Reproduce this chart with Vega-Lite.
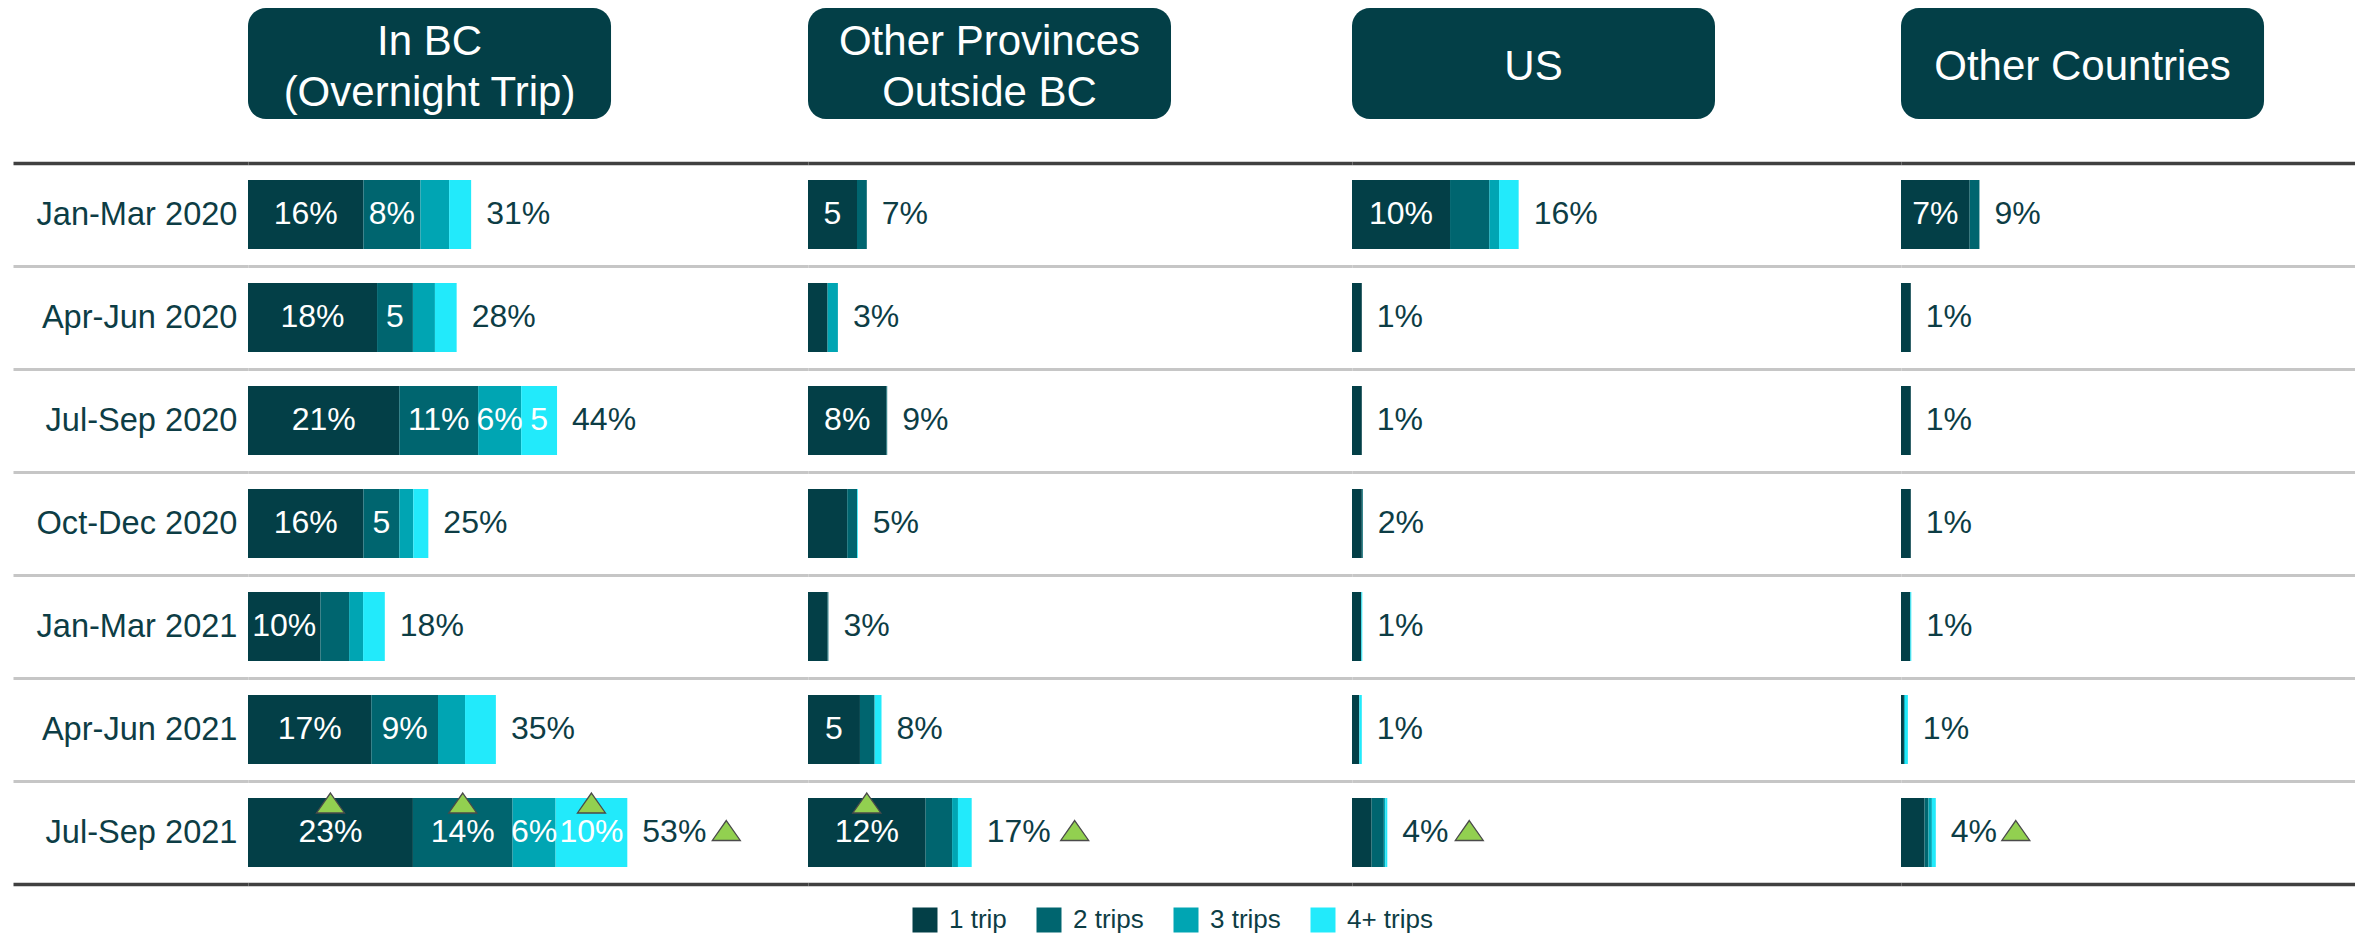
{
  "$schema": "https://vega.github.io/schema/vega-lite/v6.json",
  "background": "#ffffff",
  "padding": {"left": 11, "top": -17, "right": 0, "bottom": 0},
  "config": {"font": "Liberation Sans", "view": {"stroke": null}},
  "datasets": {
    "hdr": [
      {"region": "bc", "title": ["In BC", "(Overnight Trip)"]},
      {"region": "op", "title": ["Other Provinces", "Outside BC"]},
      {"region": "us", "title": "US"},
      {"region": "oc", "title": "Other Countries"}
    ],
    "tot": [
      {"pid": "bc1", "total": "31%", "tup": false}, {"pid": "bc2", "total": "28%", "tup": false}, {"pid": "bc3", "total": "44%", "tup": false}, {"pid": "bc4", "total": "25%", "tup": false}, {"pid": "bc5", "total": "18%", "tup": false}, {"pid": "bc6", "total": "35%", "tup": false}, {"pid": "bc7", "total": "53%", "tup": true},
      {"pid": "op1", "total": "7%", "tup": false}, {"pid": "op2", "total": "3%", "tup": false}, {"pid": "op3", "total": "9%", "tup": false}, {"pid": "op4", "total": "5%", "tup": false}, {"pid": "op5", "total": "3%", "tup": false}, {"pid": "op6", "total": "8%", "tup": false}, {"pid": "op7", "total": "17%", "tup": true},
      {"pid": "us1", "total": "16%", "tup": false}, {"pid": "us2", "total": "1%", "tup": false}, {"pid": "us3", "total": "1%", "tup": false}, {"pid": "us4", "total": "2%", "tup": false}, {"pid": "us5", "total": "1%", "tup": false}, {"pid": "us6", "total": "1%", "tup": false}, {"pid": "us7", "total": "4%", "tup": true},
      {"pid": "oc1", "total": "9%", "tup": false}, {"pid": "oc2", "total": "1%", "tup": false}, {"pid": "oc3", "total": "1%", "tup": false}, {"pid": "oc4", "total": "1%", "tup": false}, {"pid": "oc5", "total": "1%", "tup": false}, {"pid": "oc6", "total": "1%", "tup": false}, {"pid": "oc7", "total": "4%", "tup": true}
    ],
    "seg": [
      {"pid": "bc1", "region": "bc", "period": "Jan-Mar 2020", "trips": "1 trip", "value": 16.1, "label": "16%", "up": false},
      {"pid": "bc1", "region": "bc", "period": "Jan-Mar 2020", "trips": "2 trips", "value": 7.95, "label": "8%", "up": false},
      {"pid": "bc1", "region": "bc", "period": "Jan-Mar 2020", "trips": "3 trips", "value": 4.0, "label": "", "up": false},
      {"pid": "bc1", "region": "bc", "period": "Jan-Mar 2020", "trips": "4+ trips", "value": 3.07, "label": "", "up": false},
      {"pid": "bc2", "region": "bc", "period": "Apr-Jun 2020", "trips": "1 trip", "value": 18.0, "label": "18%", "up": false},
      {"pid": "bc2", "region": "bc", "period": "Apr-Jun 2020", "trips": "2 trips", "value": 5.0, "label": "5", "up": false},
      {"pid": "bc2", "region": "bc", "period": "Apr-Jun 2020", "trips": "3 trips", "value": 3.07, "label": "", "up": false},
      {"pid": "bc2", "region": "bc", "period": "Apr-Jun 2020", "trips": "4+ trips", "value": 3.03, "label": "", "up": false},
      {"pid": "bc3", "region": "bc", "period": "Jul-Sep 2020", "trips": "1 trip", "value": 21.1, "label": "21%", "up": false},
      {"pid": "bc3", "region": "bc", "period": "Jul-Sep 2020", "trips": "2 trips", "value": 11.0, "label": "11%", "up": false},
      {"pid": "bc3", "region": "bc", "period": "Jul-Sep 2020", "trips": "3 trips", "value": 6.0, "label": "6%", "up": false},
      {"pid": "bc3", "region": "bc", "period": "Jul-Sep 2020", "trips": "4+ trips", "value": 5.0, "label": "5", "up": false},
      {"pid": "bc4", "region": "bc", "period": "Oct-Dec 2020", "trips": "1 trip", "value": 16.1, "label": "16%", "up": false},
      {"pid": "bc4", "region": "bc", "period": "Oct-Dec 2020", "trips": "2 trips", "value": 5.0, "label": "5", "up": false},
      {"pid": "bc4", "region": "bc", "period": "Oct-Dec 2020", "trips": "3 trips", "value": 1.95, "label": "", "up": false},
      {"pid": "bc4", "region": "bc", "period": "Oct-Dec 2020", "trips": "4+ trips", "value": 2.1, "label": "", "up": false},
      {"pid": "bc5", "region": "bc", "period": "Jan-Mar 2021", "trips": "1 trip", "value": 10.1, "label": "10%", "up": false},
      {"pid": "bc5", "region": "bc", "period": "Jan-Mar 2021", "trips": "2 trips", "value": 4.0, "label": "", "up": false},
      {"pid": "bc5", "region": "bc", "period": "Jan-Mar 2021", "trips": "3 trips", "value": 1.95, "label": "", "up": false},
      {"pid": "bc5", "region": "bc", "period": "Jan-Mar 2021", "trips": "4+ trips", "value": 3.03, "label": "", "up": false},
      {"pid": "bc6", "region": "bc", "period": "Apr-Jun 2021", "trips": "1 trip", "value": 17.2, "label": "17%", "up": false},
      {"pid": "bc6", "region": "bc", "period": "Apr-Jun 2021", "trips": "2 trips", "value": 9.3, "label": "9%", "up": false},
      {"pid": "bc6", "region": "bc", "period": "Apr-Jun 2021", "trips": "3 trips", "value": 3.77, "label": "", "up": false},
      {"pid": "bc6", "region": "bc", "period": "Apr-Jun 2021", "trips": "4+ trips", "value": 4.3, "label": "", "up": false},
      {"pid": "bc7", "region": "bc", "period": "Jul-Sep 2021", "trips": "1 trip", "value": 23.0, "label": "23%", "up": true},
      {"pid": "bc7", "region": "bc", "period": "Jul-Sep 2021", "trips": "2 trips", "value": 13.9, "label": "14%", "up": true},
      {"pid": "bc7", "region": "bc", "period": "Jul-Sep 2021", "trips": "3 trips", "value": 6.0, "label": "6%", "up": false},
      {"pid": "bc7", "region": "bc", "period": "Jul-Sep 2021", "trips": "4+ trips", "value": 10.0, "label": "10%", "up": true},

      {"pid": "op1", "region": "op", "period": "Jan-Mar 2020", "trips": "1 trip", "value": 5.0, "label": "5", "up": false},
      {"pid": "op1", "region": "op", "period": "Jan-Mar 2020", "trips": "2 trips", "value": 1.0, "label": "", "up": false},
      {"pid": "op2", "region": "op", "period": "Apr-Jun 2020", "trips": "1 trip", "value": 2.0, "label": "", "up": false},
      {"pid": "op2", "region": "op", "period": "Apr-Jun 2020", "trips": "3 trips", "value": 1.05, "label": "", "up": false},
      {"pid": "op3", "region": "op", "period": "Jul-Sep 2020", "trips": "1 trip", "value": 8.0, "label": "8%", "up": false},
      {"pid": "op3", "region": "op", "period": "Jul-Sep 2020", "trips": "2 trips", "value": 0.08, "label": "", "up": false},
      {"pid": "op4", "region": "op", "period": "Oct-Dec 2020", "trips": "1 trip", "value": 4.0, "label": "", "up": false},
      {"pid": "op4", "region": "op", "period": "Oct-Dec 2020", "trips": "2 trips", "value": 1.0, "label": "", "up": false},
      {"pid": "op4", "region": "op", "period": "Oct-Dec 2020", "trips": "4+ trips", "value": 0.08, "label": "", "up": false},
      {"pid": "op5", "region": "op", "period": "Jan-Mar 2021", "trips": "1 trip", "value": 2.0, "label": "", "up": false},
      {"pid": "op5", "region": "op", "period": "Jan-Mar 2021", "trips": "2 trips", "value": 0.08, "label": "", "up": false},
      {"pid": "op6", "region": "op", "period": "Apr-Jun 2021", "trips": "1 trip", "value": 5.3, "label": "5", "up": false},
      {"pid": "op6", "region": "op", "period": "Apr-Jun 2021", "trips": "2 trips", "value": 1.5, "label": "", "up": false},
      {"pid": "op6", "region": "op", "period": "Apr-Jun 2021", "trips": "4+ trips", "value": 0.7, "label": "", "up": false},
      {"pid": "op7", "region": "op", "period": "Jul-Sep 2021", "trips": "1 trip", "value": 12.0, "label": "12%", "up": true},
      {"pid": "op7", "region": "op", "period": "Jul-Sep 2021", "trips": "2 trips", "value": 2.7, "label": "", "up": false},
      {"pid": "op7", "region": "op", "period": "Jul-Sep 2021", "trips": "3 trips", "value": 0.6, "label": "", "up": false},
      {"pid": "op7", "region": "op", "period": "Jul-Sep 2021", "trips": "4+ trips", "value": 1.4, "label": "", "up": false},

      {"pid": "us1", "region": "us", "period": "Jan-Mar 2020", "trips": "1 trip", "value": 10.0, "label": "10%", "up": false},
      {"pid": "us1", "region": "us", "period": "Jan-Mar 2020", "trips": "2 trips", "value": 4.0, "label": "", "up": false},
      {"pid": "us1", "region": "us", "period": "Jan-Mar 2020", "trips": "3 trips", "value": 1.0, "label": "", "up": false},
      {"pid": "us1", "region": "us", "period": "Jan-Mar 2020", "trips": "4+ trips", "value": 2.0, "label": "", "up": false},
      {"pid": "us2", "region": "us", "period": "Apr-Jun 2020", "trips": "1 trip", "value": 1.0, "label": "", "up": false},
      {"pid": "us3", "region": "us", "period": "Jul-Sep 2020", "trips": "1 trip", "value": 1.0, "label": "", "up": false},
      {"pid": "us4", "region": "us", "period": "Oct-Dec 2020", "trips": "1 trip", "value": 1.0, "label": "", "up": false},
      {"pid": "us4", "region": "us", "period": "Oct-Dec 2020", "trips": "2 trips", "value": 0.1, "label": "", "up": false},
      {"pid": "us5", "region": "us", "period": "Jan-Mar 2021", "trips": "1 trip", "value": 0.95, "label": "", "up": false},
      {"pid": "us5", "region": "us", "period": "Jan-Mar 2021", "trips": "4+ trips", "value": 0.1, "label": "", "up": false},
      {"pid": "us6", "region": "us", "period": "Apr-Jun 2021", "trips": "1 trip", "value": 0.75, "label": "", "up": false},
      {"pid": "us6", "region": "us", "period": "Apr-Jun 2021", "trips": "4+ trips", "value": 0.25, "label": "", "up": false},
      {"pid": "us7", "region": "us", "period": "Jul-Sep 2021", "trips": "1 trip", "value": 2.0, "label": "", "up": false},
      {"pid": "us7", "region": "us", "period": "Jul-Sep 2021", "trips": "2 trips", "value": 1.25, "label": "", "up": false},
      {"pid": "us7", "region": "us", "period": "Jul-Sep 2021", "trips": "3 trips", "value": 0.15, "label": "", "up": false},
      {"pid": "us7", "region": "us", "period": "Jul-Sep 2021", "trips": "4+ trips", "value": 0.2, "label": "", "up": false},

      {"pid": "oc1", "region": "oc", "period": "Jan-Mar 2020", "trips": "1 trip", "value": 7.0, "label": "7%", "up": false},
      {"pid": "oc1", "region": "oc", "period": "Jan-Mar 2020", "trips": "2 trips", "value": 1.0, "label": "", "up": false},
      {"pid": "oc2", "region": "oc", "period": "Apr-Jun 2020", "trips": "1 trip", "value": 1.0, "label": "", "up": false},
      {"pid": "oc3", "region": "oc", "period": "Jul-Sep 2020", "trips": "1 trip", "value": 1.0, "label": "", "up": false},
      {"pid": "oc4", "region": "oc", "period": "Oct-Dec 2020", "trips": "1 trip", "value": 1.0, "label": "", "up": false},
      {"pid": "oc5", "region": "oc", "period": "Jan-Mar 2021", "trips": "1 trip", "value": 0.95, "label": "", "up": false},
      {"pid": "oc5", "region": "oc", "period": "Jan-Mar 2021", "trips": "4+ trips", "value": 0.1, "label": "", "up": false},
      {"pid": "oc6", "region": "oc", "period": "Apr-Jun 2021", "trips": "1 trip", "value": 0.3, "label": "", "up": false},
      {"pid": "oc6", "region": "oc", "period": "Apr-Jun 2021", "trips": "3 trips", "value": 0.1, "label": "", "up": false},
      {"pid": "oc6", "region": "oc", "period": "Apr-Jun 2021", "trips": "4+ trips", "value": 0.3, "label": "", "up": false},
      {"pid": "oc7", "region": "oc", "period": "Jul-Sep 2021", "trips": "1 trip", "value": 2.4, "label": "", "up": false},
      {"pid": "oc7", "region": "oc", "period": "Jul-Sep 2021", "trips": "2 trips", "value": 0.4, "label": "", "up": false},
      {"pid": "oc7", "region": "oc", "period": "Jul-Sep 2021", "trips": "3 trips", "value": 0.35, "label": "", "up": false},
      {"pid": "oc7", "region": "oc", "period": "Jul-Sep 2021", "trips": "4+ trips", "value": 0.4, "label": "", "up": false}
    ]
  },
  "hconcat": [
    {
      "width": 560, "height": 885,
      "layer": [
        {
          "data": {"name": "hdr"},
          "transform": [{"filter": "datum.region === 'bc'"}],
          "encoding": {
            "x": {"field": "region", "type": "nominal", "axis": null, "scale": {"paddingInner": 0, "paddingOuter": 0.2713, "align": 0}},
            "y": {"field": "region", "type": "nominal", "axis": null, "scale": {"domain": ["bc", "_1", "_2", "_3", "_4", "_5", "_6"], "paddingInner": 0, "paddingOuter": 0.4865, "align": 0.0833}}
          },
          "layer": [
            {"mark": {"type": "rect", "cornerRadius": 18, "fill": "#033f47"}},
            {"mark": {"type": "text", "color": "#ffffff", "fontSize": 42, "lineHeight": 51, "baseline": "middle", "align": "center", "dy": -21}, "encoding": {"text": {"field": "title"}}}
          ]
        },
        {
          "data": {"name": "seg"},
          "transform": [{"filter": "datum.region === 'bc'"}],
          "layer": [
            {
              "mark": {"type": "bar", "height": 69},
              "encoding": {
                "y": {"field": "period", "type": "nominal", "title": null,
                  "scale": {"domain": ["Jan-Mar 2020", "Apr-Jun 2020", "Jul-Sep 2020", "Oct-Dec 2020", "Jan-Mar 2021", "Apr-Jun 2021", "Jul-Sep 2021"], "paddingInner": 0, "paddingOuter": 0.7961, "align": 1},
                  "axis": {"orient": "left", "title": null, "domain": false, "grid": true, "tickBand": "extent", "ticks": true, "tickSize": 235, "labelPadding": -224, "labelFontSize": 32.6, "labelColor": "#0d3d45", "labelAlign": "right", "labelBaseline": "middle", "labelLimit": 0,
                    "gridColor": {"condition": {"test": "datum.index === -1 || datum.value === 'Jul-Sep 2021'", "value": "#404040"}, "value": "#c6c6c6"},
                    "tickColor": {"condition": {"test": "datum.index === -1 || datum.value === 'Jul-Sep 2021'", "value": "#404040"}, "value": "#c6c6c6"},
                    "gridWidth": {"condition": {"test": "datum.index === -1 || datum.value === 'Jul-Sep 2021'", "value": 3.5}, "value": 3},
                    "tickWidth": {"condition": {"test": "datum.index === -1 || datum.value === 'Jul-Sep 2021'", "value": 3.5}, "value": 3}}},
                "x": {"field": "value", "type": "quantitative", "stack": "zero", "axis": null, "scale": {"domain": [0, 78.1], "nice": false, "zero": true}},
                "color": {"field": "trips", "type": "nominal", "scale": {"domain": ["1 trip", "2 trips", "3 trips", "4+ trips"], "range": ["#033f47", "#00656f", "#00a5b3", "#22eafb"]},
                  "legend": {"orient": "none", "legendX": 664, "legendY": 908, "direction": "horizontal", "title": null, "symbolType": "square", "symbolSize": 625, "symbolStrokeWidth": 0, "symbolOpacity": 1, "labelFontSize": 26, "labelColor": "#0d3d45", "columnPadding": 29, "labelOffset": 11, "padding": 0}},
                "order": {"field": "trips", "sort": "ascending"}
              }
            },
            {
              "transform": [{"stack": "value", "groupby": ["period"], "sort": [{"field": "trips", "order": "ascending"}], "as": ["s0", "s1"]}, {"calculate": "(datum.s0 + datum.s1) / 2", "as": "mid"}, {"filter": "datum.label !== ''"}],
              "mark": {"type": "text", "color": "#ffffff", "fontSize": 32, "baseline": "middle", "align": "center"},
              "encoding": {"y": {"field": "period", "type": "nominal", "title": null}, "x": {"field": "mid", "type": "quantitative", "axis": null}, "text": {"field": "label"}}
            },
            {
              "transform": [{"stack": "value", "groupby": ["period"], "sort": [{"field": "trips", "order": "ascending"}], "as": ["s0", "s1"]}, {"calculate": "(datum.s0 + datum.s1) / 2", "as": "mid"}, {"filter": "datum.up"}],
              "mark": {"type": "point", "shape": "M0,-0.714L1,0.714L-1,0.714Z", "size": 784, "filled": true, "fill": "#92d050", "stroke": "#4a4a4a", "strokeWidth": 1.3, "opacity": 1, "yOffset": -29.5},
              "encoding": {"y": {"field": "period", "type": "nominal", "title": null}, "x": {"field": "mid", "type": "quantitative", "axis": null}}
            },
            {
              "transform": [{"aggregate": [{"op": "sum", "field": "value", "as": "end"}], "groupby": ["pid", "period"]}, {"lookup": "pid", "from": {"data": {"name": "tot"}, "key": "pid", "fields": ["total", "tup"]}}],
              "mark": {"type": "text", "color": "#0d3d45", "fontSize": 32, "baseline": "middle", "align": "left", "dx": 15},
              "encoding": {"y": {"field": "period", "type": "nominal", "title": null}, "x": {"field": "end", "type": "quantitative", "axis": null}, "text": {"field": "total"}}
            },
            {
              "transform": [{"aggregate": [{"op": "sum", "field": "value", "as": "end"}], "groupby": ["pid", "period"]}, {"lookup": "pid", "from": {"data": {"name": "tot"}, "key": "pid", "fields": ["total", "tup"]}}, {"filter": "datum.tup && length(datum.total) === 3"}],
              "mark": {"type": "point", "shape": "M0,-0.714L1,0.714L-1,0.714Z", "size": 784, "filled": true, "fill": "#92d050", "stroke": "#4a4a4a", "strokeWidth": 1.3, "opacity": 1, "xOffset": 99, "yOffset": -2},
              "encoding": {"y": {"field": "period", "type": "nominal", "title": null}, "x": {"field": "end", "type": "quantitative", "axis": null}}
            }
          ]
        }
      ],
      "resolve": {"scale": {"x": "independent", "y": "independent"}, "axis": {"x": "independent", "y": "independent"}}
    },
    {
      "width": 544, "height": 885,
      "layer": [
        {
          "data": {"name": "hdr"},
          "transform": [{"filter": "datum.region === 'op'"}],
          "encoding": {
            "x": {"field": "region", "type": "nominal", "axis": null, "scale": {"paddingInner": 0, "paddingOuter": 0.2493, "align": 0}},
            "y": {"field": "region", "type": "nominal", "axis": null, "scale": {"domain": ["op", "_1", "_2", "_3", "_4", "_5", "_6"], "paddingInner": 0, "paddingOuter": 0.4865, "align": 0.0833}}
          },
          "layer": [
            {"mark": {"type": "rect", "cornerRadius": 18, "fill": "#033f47"}},
            {"mark": {"type": "text", "color": "#ffffff", "fontSize": 42, "lineHeight": 51, "baseline": "middle", "align": "center", "dy": -21}, "encoding": {"text": {"field": "title"}}}
          ]
        },
        {
          "data": {"name": "seg"},
          "transform": [{"filter": "datum.region === 'op'"}],
          "layer": [
            {
              "mark": {"type": "bar", "height": 69},
              "encoding": {
                "y": {"field": "period", "type": "nominal", "title": null,
                  "scale": {"domain": ["Jan-Mar 2020", "Apr-Jun 2020", "Jul-Sep 2020", "Oct-Dec 2020", "Jan-Mar 2021", "Apr-Jun 2021", "Jul-Sep 2021"], "paddingInner": 0, "paddingOuter": 0.7961, "align": 1},
                  "axis": {"orient": "left", "title": null, "domain": false, "grid": true, "tickBand": "extent", "ticks": false, "labels": false,
                    "gridColor": {"condition": {"test": "datum.index === -1 || datum.value === 'Jul-Sep 2021'", "value": "#404040"}, "value": "#c6c6c6"},
                    "gridWidth": {"condition": {"test": "datum.index === -1 || datum.value === 'Jul-Sep 2021'", "value": 3.5}, "value": 3}}},
                "x": {"field": "value", "type": "quantitative", "stack": "zero", "axis": null, "scale": {"domain": [0, 55.5], "nice": false, "zero": true}},
                "color": {"field": "trips", "type": "nominal", "scale": {"domain": ["1 trip", "2 trips", "3 trips", "4+ trips"], "range": ["#033f47", "#00656f", "#00a5b3", "#22eafb"]},
                  "legend": {"orient": "none", "legendX": 664, "legendY": 908, "direction": "horizontal", "title": null, "symbolType": "square", "symbolSize": 625, "symbolStrokeWidth": 0, "symbolOpacity": 1, "labelFontSize": 26, "labelColor": "#0d3d45", "columnPadding": 29, "labelOffset": 11, "padding": 0}},
                "order": {"field": "trips", "sort": "ascending"}
              }
            },
            {
              "transform": [{"stack": "value", "groupby": ["period"], "sort": [{"field": "trips", "order": "ascending"}], "as": ["s0", "s1"]}, {"calculate": "(datum.s0 + datum.s1) / 2", "as": "mid"}, {"filter": "datum.label !== ''"}],
              "mark": {"type": "text", "color": "#ffffff", "fontSize": 32, "baseline": "middle", "align": "center"},
              "encoding": {"y": {"field": "period", "type": "nominal", "title": null}, "x": {"field": "mid", "type": "quantitative", "axis": null}, "text": {"field": "label"}}
            },
            {
              "transform": [{"stack": "value", "groupby": ["period"], "sort": [{"field": "trips", "order": "ascending"}], "as": ["s0", "s1"]}, {"calculate": "(datum.s0 + datum.s1) / 2", "as": "mid"}, {"filter": "datum.up"}],
              "mark": {"type": "point", "shape": "M0,-0.714L1,0.714L-1,0.714Z", "size": 784, "filled": true, "fill": "#92d050", "stroke": "#4a4a4a", "strokeWidth": 1.3, "opacity": 1, "yOffset": -29.5},
              "encoding": {"y": {"field": "period", "type": "nominal", "title": null}, "x": {"field": "mid", "type": "quantitative", "axis": null}}
            },
            {
              "transform": [{"aggregate": [{"op": "sum", "field": "value", "as": "end"}], "groupby": ["pid", "period"]}, {"lookup": "pid", "from": {"data": {"name": "tot"}, "key": "pid", "fields": ["total", "tup"]}}],
              "mark": {"type": "text", "color": "#0d3d45", "fontSize": 32, "baseline": "middle", "align": "left", "dx": 15},
              "encoding": {"y": {"field": "period", "type": "nominal", "title": null}, "x": {"field": "end", "type": "quantitative", "axis": null}, "text": {"field": "total"}}
            },
            {
              "transform": [{"aggregate": [{"op": "sum", "field": "value", "as": "end"}], "groupby": ["pid", "period"]}, {"lookup": "pid", "from": {"data": {"name": "tot"}, "key": "pid", "fields": ["total", "tup"]}}, {"filter": "datum.tup && length(datum.total) === 3"}],
              "mark": {"type": "point", "shape": "M0,-0.714L1,0.714L-1,0.714Z", "size": 784, "filled": true, "fill": "#92d050", "stroke": "#4a4a4a", "strokeWidth": 1.3, "opacity": 1, "xOffset": 103, "yOffset": -2},
              "encoding": {"y": {"field": "period", "type": "nominal", "title": null}, "x": {"field": "end", "type": "quantitative", "axis": null}}
            }
          ]
        }
      ],
      "resolve": {"scale": {"x": "independent", "y": "independent"}, "axis": {"x": "independent", "y": "independent"}}
    },
    {
      "width": 549, "height": 885,
      "layer": [
        {
          "data": {"name": "hdr"},
          "transform": [{"filter": "datum.region === 'us'"}],
          "encoding": {
            "x": {"field": "region", "type": "nominal", "axis": null, "scale": {"paddingInner": 0, "paddingOuter": 0.2562, "align": 0}},
            "y": {"field": "region", "type": "nominal", "axis": null, "scale": {"domain": ["us", "_1", "_2", "_3", "_4", "_5", "_6"], "paddingInner": 0, "paddingOuter": 0.4865, "align": 0.0833}}
          },
          "layer": [
            {"mark": {"type": "rect", "cornerRadius": 18, "fill": "#033f47"}},
            {"mark": {"type": "text", "color": "#ffffff", "fontSize": 42, "lineHeight": 51, "baseline": "middle", "align": "center", "dy": 4}, "encoding": {"text": {"field": "title"}}}
          ]
        },
        {
          "data": {"name": "seg"},
          "transform": [{"filter": "datum.region === 'us'"}],
          "layer": [
            {
              "mark": {"type": "bar", "height": 69},
              "encoding": {
                "y": {"field": "period", "type": "nominal", "title": null,
                  "scale": {"domain": ["Jan-Mar 2020", "Apr-Jun 2020", "Jul-Sep 2020", "Oct-Dec 2020", "Jan-Mar 2021", "Apr-Jun 2021", "Jul-Sep 2021"], "paddingInner": 0, "paddingOuter": 0.7961, "align": 1},
                  "axis": {"orient": "left", "title": null, "domain": false, "grid": true, "tickBand": "extent", "ticks": false, "labels": false,
                    "gridColor": {"condition": {"test": "datum.index === -1 || datum.value === 'Jul-Sep 2021'", "value": "#404040"}, "value": "#c6c6c6"},
                    "gridWidth": {"condition": {"test": "datum.index === -1 || datum.value === 'Jul-Sep 2021'", "value": 3.5}, "value": 3}}},
                "x": {"field": "value", "type": "quantitative", "stack": "zero", "axis": null, "scale": {"domain": [0, 56.0], "nice": false, "zero": true}},
                "color": {"field": "trips", "type": "nominal", "scale": {"domain": ["1 trip", "2 trips", "3 trips", "4+ trips"], "range": ["#033f47", "#00656f", "#00a5b3", "#22eafb"]},
                  "legend": {"orient": "none", "legendX": 664, "legendY": 908, "direction": "horizontal", "title": null, "symbolType": "square", "symbolSize": 625, "symbolStrokeWidth": 0, "symbolOpacity": 1, "labelFontSize": 26, "labelColor": "#0d3d45", "columnPadding": 29, "labelOffset": 11, "padding": 0}},
                "order": {"field": "trips", "sort": "ascending"}
              }
            },
            {
              "transform": [{"stack": "value", "groupby": ["period"], "sort": [{"field": "trips", "order": "ascending"}], "as": ["s0", "s1"]}, {"calculate": "(datum.s0 + datum.s1) / 2", "as": "mid"}, {"filter": "datum.label !== ''"}],
              "mark": {"type": "text", "color": "#ffffff", "fontSize": 32, "baseline": "middle", "align": "center"},
              "encoding": {"y": {"field": "period", "type": "nominal", "title": null}, "x": {"field": "mid", "type": "quantitative", "axis": null}, "text": {"field": "label"}}
            },
            {
              "transform": [{"aggregate": [{"op": "sum", "field": "value", "as": "end"}], "groupby": ["pid", "period"]}, {"lookup": "pid", "from": {"data": {"name": "tot"}, "key": "pid", "fields": ["total", "tup"]}}],
              "mark": {"type": "text", "color": "#0d3d45", "fontSize": 32, "baseline": "middle", "align": "left", "dx": 15},
              "encoding": {"y": {"field": "period", "type": "nominal", "title": null}, "x": {"field": "end", "type": "quantitative", "axis": null}, "text": {"field": "total"}}
            },
            {
              "transform": [{"aggregate": [{"op": "sum", "field": "value", "as": "end"}], "groupby": ["pid", "period"]}, {"lookup": "pid", "from": {"data": {"name": "tot"}, "key": "pid", "fields": ["total", "tup"]}}, {"filter": "datum.tup && length(datum.total) === 2"}],
              "mark": {"type": "point", "shape": "M0,-0.714L1,0.714L-1,0.714Z", "size": 784, "filled": true, "fill": "#92d050", "stroke": "#4a4a4a", "strokeWidth": 1.3, "opacity": 1, "xOffset": 82, "yOffset": -2},
              "encoding": {"y": {"field": "period", "type": "nominal", "title": null}, "x": {"field": "end", "type": "quantitative", "axis": null}}
            }
          ]
        }
      ],
      "resolve": {"scale": {"x": "independent", "y": "independent"}, "axis": {"x": "independent", "y": "independent"}}
    },
    {
      "width": 454, "height": 885,
      "layer": [
        {
          "data": {"name": "hdr"},
          "transform": [{"filter": "datum.region === 'oc'"}],
          "encoding": {
            "x": {"field": "region", "type": "nominal", "axis": null, "scale": {"paddingInner": 0, "paddingOuter": 0.1253, "align": 0}},
            "y": {"field": "region", "type": "nominal", "axis": null, "scale": {"domain": ["oc", "_1", "_2", "_3", "_4", "_5", "_6"], "paddingInner": 0, "paddingOuter": 0.4865, "align": 0.0833}}
          },
          "layer": [
            {"mark": {"type": "rect", "cornerRadius": 18, "fill": "#033f47"}},
            {"mark": {"type": "text", "color": "#ffffff", "fontSize": 42, "lineHeight": 51, "baseline": "middle", "align": "center", "dy": 4}, "encoding": {"text": {"field": "title"}}}
          ]
        },
        {
          "data": {"name": "seg"},
          "transform": [{"filter": "datum.region === 'oc'"}],
          "layer": [
            {
              "mark": {"type": "bar", "height": 69},
              "encoding": {
                "y": {"field": "period", "type": "nominal", "title": null,
                  "scale": {"domain": ["Jan-Mar 2020", "Apr-Jun 2020", "Jul-Sep 2020", "Oct-Dec 2020", "Jan-Mar 2021", "Apr-Jun 2021", "Jul-Sep 2021"], "paddingInner": 0, "paddingOuter": 0.7961, "align": 1},
                  "axis": {"orient": "left", "title": null, "domain": false, "grid": true, "tickBand": "extent", "ticks": false, "labels": false,
                    "gridColor": {"condition": {"test": "datum.index === -1 || datum.value === 'Jul-Sep 2021'", "value": "#404040"}, "value": "#c6c6c6"},
                    "gridWidth": {"condition": {"test": "datum.index === -1 || datum.value === 'Jul-Sep 2021'", "value": 3.5}, "value": 3}}},
                "x": {"field": "value", "type": "quantitative", "stack": "zero", "axis": null, "scale": {"domain": [0, 46.3], "nice": false, "zero": true}},
                "color": {"field": "trips", "type": "nominal", "scale": {"domain": ["1 trip", "2 trips", "3 trips", "4+ trips"], "range": ["#033f47", "#00656f", "#00a5b3", "#22eafb"]},
                  "legend": {"orient": "none", "legendX": 664, "legendY": 908, "direction": "horizontal", "title": null, "symbolType": "square", "symbolSize": 625, "symbolStrokeWidth": 0, "symbolOpacity": 1, "labelFontSize": 26, "labelColor": "#0d3d45", "columnPadding": 29, "labelOffset": 11, "padding": 0}},
                "order": {"field": "trips", "sort": "ascending"}
              }
            },
            {
              "transform": [{"stack": "value", "groupby": ["period"], "sort": [{"field": "trips", "order": "ascending"}], "as": ["s0", "s1"]}, {"calculate": "(datum.s0 + datum.s1) / 2", "as": "mid"}, {"filter": "datum.label !== ''"}],
              "mark": {"type": "text", "color": "#ffffff", "fontSize": 32, "baseline": "middle", "align": "center"},
              "encoding": {"y": {"field": "period", "type": "nominal", "title": null}, "x": {"field": "mid", "type": "quantitative", "axis": null}, "text": {"field": "label"}}
            },
            {
              "transform": [{"aggregate": [{"op": "sum", "field": "value", "as": "end"}], "groupby": ["pid", "period"]}, {"lookup": "pid", "from": {"data": {"name": "tot"}, "key": "pid", "fields": ["total", "tup"]}}],
              "mark": {"type": "text", "color": "#0d3d45", "fontSize": 32, "baseline": "middle", "align": "left", "dx": 15},
              "encoding": {"y": {"field": "period", "type": "nominal", "title": null}, "x": {"field": "end", "type": "quantitative", "axis": null}, "text": {"field": "total"}}
            },
            {
              "transform": [{"aggregate": [{"op": "sum", "field": "value", "as": "end"}], "groupby": ["pid", "period"]}, {"lookup": "pid", "from": {"data": {"name": "tot"}, "key": "pid", "fields": ["total", "tup"]}}, {"filter": "datum.tup && length(datum.total) === 2"}],
              "mark": {"type": "point", "shape": "M0,-0.714L1,0.714L-1,0.714Z", "size": 784, "filled": true, "fill": "#92d050", "stroke": "#4a4a4a", "strokeWidth": 1.3, "opacity": 1, "xOffset": 80, "yOffset": -2},
              "encoding": {"y": {"field": "period", "type": "nominal", "title": null}, "x": {"field": "end", "type": "quantitative", "axis": null}}
            }
          ]
        }
      ],
      "resolve": {"scale": {"x": "independent", "y": "independent"}, "axis": {"x": "independent", "y": "independent"}}
    }
  ],
  "spacing": 0,
  "bounds": "flush",
  "resolve": {"scale": {"x": "independent", "y": "independent", "color": "shared"}}
}
